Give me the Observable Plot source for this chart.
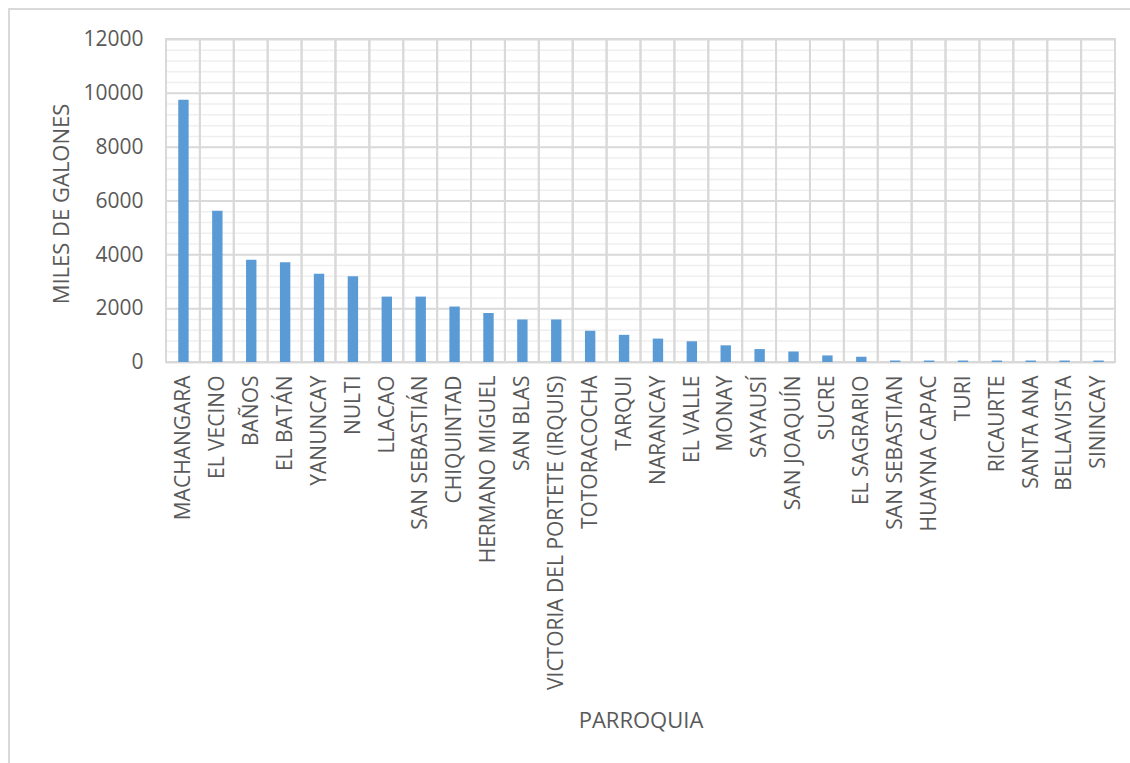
<!DOCTYPE html>
<html>
<head>
<meta charset="utf-8">
<script src="https://cdn.jsdelivr.net/npm/d3@7"></script>
<script src="https://cdn.jsdelivr.net/npm/@observablehq/plot@0.6"></script>
<style>
  html, body { margin: 0; padding: 0; background: #fff; }
  #wrap { position: relative; width: 1130px; height: 763px; overflow: hidden; }
  #border { position: absolute; left: 8px; top: 8px; width: 1200px; height: 900px;
            border-left: 2px solid #d9d9d9; border-top: 2px solid #d9d9d9; }
  #chart { position: absolute; left: 0; top: 0; }
</style>
</head>
<body>
<div id="wrap"><div id="border"></div><div id="chart"></div></div>
<script>
// Parroquias, ordenadas de mayor a menor consumo
const parroquias = [
  "MACHANGARA", "EL VECINO", "BAÑOS", "EL BATÁN", "YANUNCAY", "NULTI", "LLACAO",
  "SAN SEBASTIÁN", "CHIQUINTAD", "HERMANO MIGUEL", "SAN BLAS",
  "VICTORIA DEL PORTETE (IRQUIS)", "TOTORACOCHA", "TARQUI", "NARANCAY", "EL VALLE",
  "MONAY", "SAYAUSÍ", "SAN JOAQUÍN", "SUCRE", "EL SAGRARIO", "SAN SEBASTIAN",
  "HUAYNA CAPAC", "TURI", "RICAURTE", "SANTA ANA", "BELLAVISTA", "SININCAY"
];

// Consumo en miles de galones
const galones = [
  9740, 5620, 3800, 3710, 3280, 3190, 2430,
  2430, 2060, 1820, 1580,
  1580, 1160, 1010, 870, 770,
  620, 480, 390, 245, 195, 55,
  55, 55, 55, 55, 55, 55
];

const yTicks = [0, 2000, 4000, 6000, 8000, 10000, 12000];
const yMinor = d3.range(0, 12001, 400).filter(v => v % 2000 !== 0);

const data = parroquias.map((p, i) => ({parroquia: p, valor: galones[i]}));

const W = 1130, H = 763;
const plotLeft = 166, plotRight = 1115, plotTop = 39, plotBase = 362;
const barW = 10.4;
const textColor = "#595959";

const chart = Plot.plot({
  width: W,
  height: H,
  marginLeft: plotLeft,
  marginRight: W - plotRight,
  marginTop: plotTop,
  marginBottom: H - plotBase,
  style: {fontFamily: "'Open Sans', sans-serif", background: "transparent", color: textColor},
  x: {domain: parroquias, padding: 0, round: false},
  y: {domain: [0, 12000]},
  marks: [
    // minor and major horizontal gridlines
    Plot.ruleY(yMinor, {stroke: "#efefef", strokeWidth: 1.5}),
    Plot.ruleY(yTicks, {stroke: "#d9d9d9", strokeWidth: 2}),
    // vertical gridlines at category boundaries
    Plot.barY(parroquias, {x: d => d, y1: 0, y2: 12000, fill: "none", stroke: "#d9d9d9", strokeWidth: 2}),
    // bars: narrow columns centred in each category
    Plot.ruleX(data, {x: "parroquia", y: "valor", stroke: "#5b9bd5", strokeWidth: barW}),
    Plot.axisY({ticks: yTicks, tickSize: 0, tickPadding: 23, fontSize: 21, fill: textColor,
                tickFormat: d3.format("d"), label: null}),
    Plot.axisX({tickRotate: -90, tickSize: 0, tickPadding: 13, fontSize: 21, fill: textColor, label: null}),
    // axis titles
    Plot.text(["MILES DE GALONES"], {frameAnchor: "left", textAnchor: "middle", rotate: -90,
                dx: 61 - plotLeft, dy: 3, text: d => d, fontSize: 22, fill: textColor}),
    Plot.text(["PARROQUIA"], {frameAnchor: "bottom", dy: 358, text: d => d, fontSize: 22,
                fill: textColor, lineAnchor: "middle"})
  ]
});

document.getElementById("chart").appendChild(chart);
</script>
</body>
</html>
